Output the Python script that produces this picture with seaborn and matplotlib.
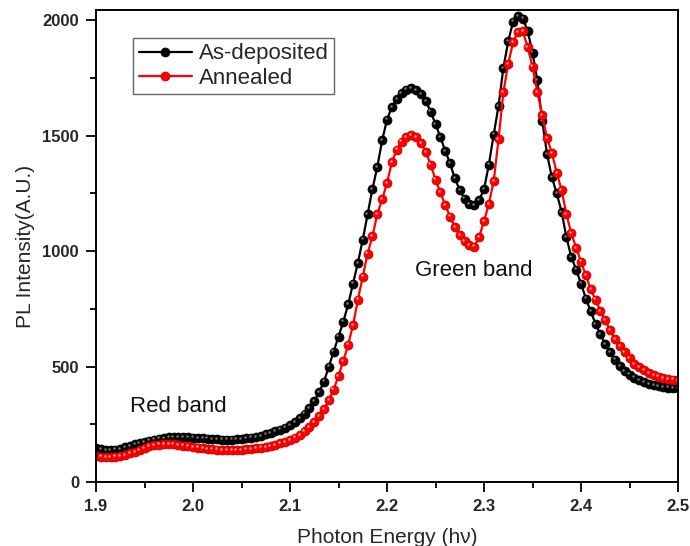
import numpy as np
import pandas as pd
import matplotlib
matplotlib.use("Agg")
import matplotlib.pyplot as plt
import matplotlib.transforms as mtransforms
from matplotlib.ticker import MultipleLocator
import seaborn as sns

# ---- data -------------------------------------------------------------
E_START, E_STOP, E_NUM = 1.9, 2.5, 121   # photon energy grid (eV), 0.005 step
energy = np.round(np.linspace(E_START, E_STOP, E_NUM), 3)

as_deposited = [
    147, 142, 139, 138, 140, 144, 150, 157, 163, 169,
    174, 179, 184, 188, 191, 193, 194, 194, 194, 193,
    192, 191, 189, 188, 186, 185, 184, 184, 184, 185,
    187, 189, 192, 196, 200, 206, 212, 219, 227, 236,
    247, 260, 276, 296, 320, 350, 390, 435, 500, 565,
    630, 695, 770, 860, 950, 1050, 1160, 1270, 1365, 1480,
    1570, 1625, 1660, 1685, 1700, 1705, 1698, 1680, 1650, 1605,
    1550, 1495, 1435, 1380, 1315, 1265, 1228, 1205, 1198, 1222,
    1268, 1375, 1505, 1630, 1795, 1910, 1995, 2020, 2008, 1955,
    1860, 1740, 1565, 1420, 1320, 1250, 1170, 1060, 975, 920,
    860, 795, 740, 685, 640, 598, 562, 530, 502, 482,
    465, 452, 442, 433, 425, 419, 414, 411, 409, 407,
    406,
]

annealed = [
    112, 110, 109, 109, 110, 113, 118, 124, 131, 139,
    147, 154, 159, 162, 164, 164, 163, 161, 158, 155,
    152, 149, 146, 144, 142, 140, 139, 138, 138, 138,
    139, 141, 143, 146, 149, 152, 156, 161, 167, 174,
    182, 192, 204, 220, 238, 260, 287, 315, 355, 400,
    460, 525, 595, 680, 790, 890, 990, 1065, 1160, 1225,
    1295, 1385, 1440, 1475, 1495, 1502, 1495, 1470, 1430, 1375,
    1310, 1255, 1200, 1150, 1105, 1070, 1043, 1025, 1020, 1062,
    1130, 1205, 1305, 1485, 1690, 1812, 1906, 1950, 1952, 1885,
    1800, 1690, 1590, 1490, 1425, 1340, 1265, 1160, 1077, 1015,
    955, 895, 835, 790, 742, 700, 658, 620, 588, 562,
    538, 512, 497, 484, 472, 464, 457, 451, 447, 444,
    442,
]

series_names = ["As-deposited", "Annealed"]
series_colors = ["#000000", "#ff0000"]
edge_colors = ["#000000", "#c80000"]
highlight_colors = ["#7a7a7a", "#ff9c9c"]

x_ticks = [1.9, 2.0, 2.1, 2.2, 2.3, 2.4, 2.5]
y_ticks = [0, 500, 1000, 1500, 2000]
x_label = "Photon Energy (h\u03bd)"
y_label = "PL Intensity(A.U.)"
annotations = [("Red band", 1.935, 325), ("Green band", 2.229, 918)]

# ---- style ------------------------------------------------------------
sns.set_theme(style="ticks")
plt.rcParams["font.family"] = ["Liberation Sans", "DejaVu Sans"]

fig = plt.figure(figsize=(6.9, 5.46), dpi=100)
ax = fig.add_axes([96 / 690, 1 - 482 / 546, 582 / 690, 472 / 546])

df = pd.DataFrame({
    "energy": np.concatenate([energy, energy]),
    "intensity": np.concatenate([as_deposited, annealed]),
    "sample": [series_names[0]] * len(energy) + [series_names[1]] * len(energy),
})

hl_offset = mtransforms.offset_copy(ax.transData, fig=fig, x=-1.2, y=1.2, units="dots")

for name, col, ec, hc in zip(series_names, series_colors, edge_colors, highlight_colors):
    sub = df[df["sample"] == name]
    sns.lineplot(data=sub, x="energy", y="intensity", ax=ax, color=col,
                 linewidth=1.6, marker="o", markersize=6.4,
                 markeredgecolor=ec, markeredgewidth=0.6,
                 label=name, estimator=None, sort=False)
    # glossy highlight on each sphere-like marker
    sns.lineplot(data=sub, x="energy", y="intensity", ax=ax, color=hc,
                 linewidth=0, marker="o", markersize=1.8, markeredgewidth=0,
                 estimator=None, sort=False, legend=False,
                 transform=hl_offset)

ax.set_xlim(1.9, 2.5)
ax.set_ylim(0, 2045)
ax.set_xticks(x_ticks)
ax.set_yticks(y_ticks)
ax.xaxis.set_minor_locator(MultipleLocator(0.05))
ax.yaxis.set_minor_locator(MultipleLocator(250))
ax.set_xticklabels([f"{v:.1f}" for v in x_ticks], fontweight="bold", fontsize=12)
ax.set_yticklabels([str(v) for v in y_ticks], fontweight="bold", fontsize=12)
ax.tick_params(axis="both", which="major", direction="out", length=7.2, width=1.3,
               color="black", pad=5)
ax.tick_params(axis="both", which="minor", direction="out", length=4, width=1.3,
               color="black")
for sp in ax.spines.values():
    sp.set_visible(True)
    sp.set_linewidth(1.4)
    sp.set_color("black")

ax.set_xlabel(x_label, fontsize=15, labelpad=10)
ax.set_ylabel(y_label, fontsize=15, labelpad=5)

for txt, xv, yv in annotations:
    ax.text(xv, yv, txt, fontsize=16, va="center", ha="left", color="#111111")

handles, labels = ax.get_legend_handles_labels()
leg = ax.legend(handles[:2], labels[:2], loc="upper left",
                bbox_to_anchor=(0.064, 0.941), borderaxespad=0,
                fontsize=16, frameon=True, fancybox=False, edgecolor="#666666",
                framealpha=1, labelspacing=0.15, borderpad=0.25,
                handlelength=2.4, handletextpad=0.3)
leg.get_frame().set_linewidth(1.0)

fig.savefig("out.png", dpi=100, facecolor="white")
